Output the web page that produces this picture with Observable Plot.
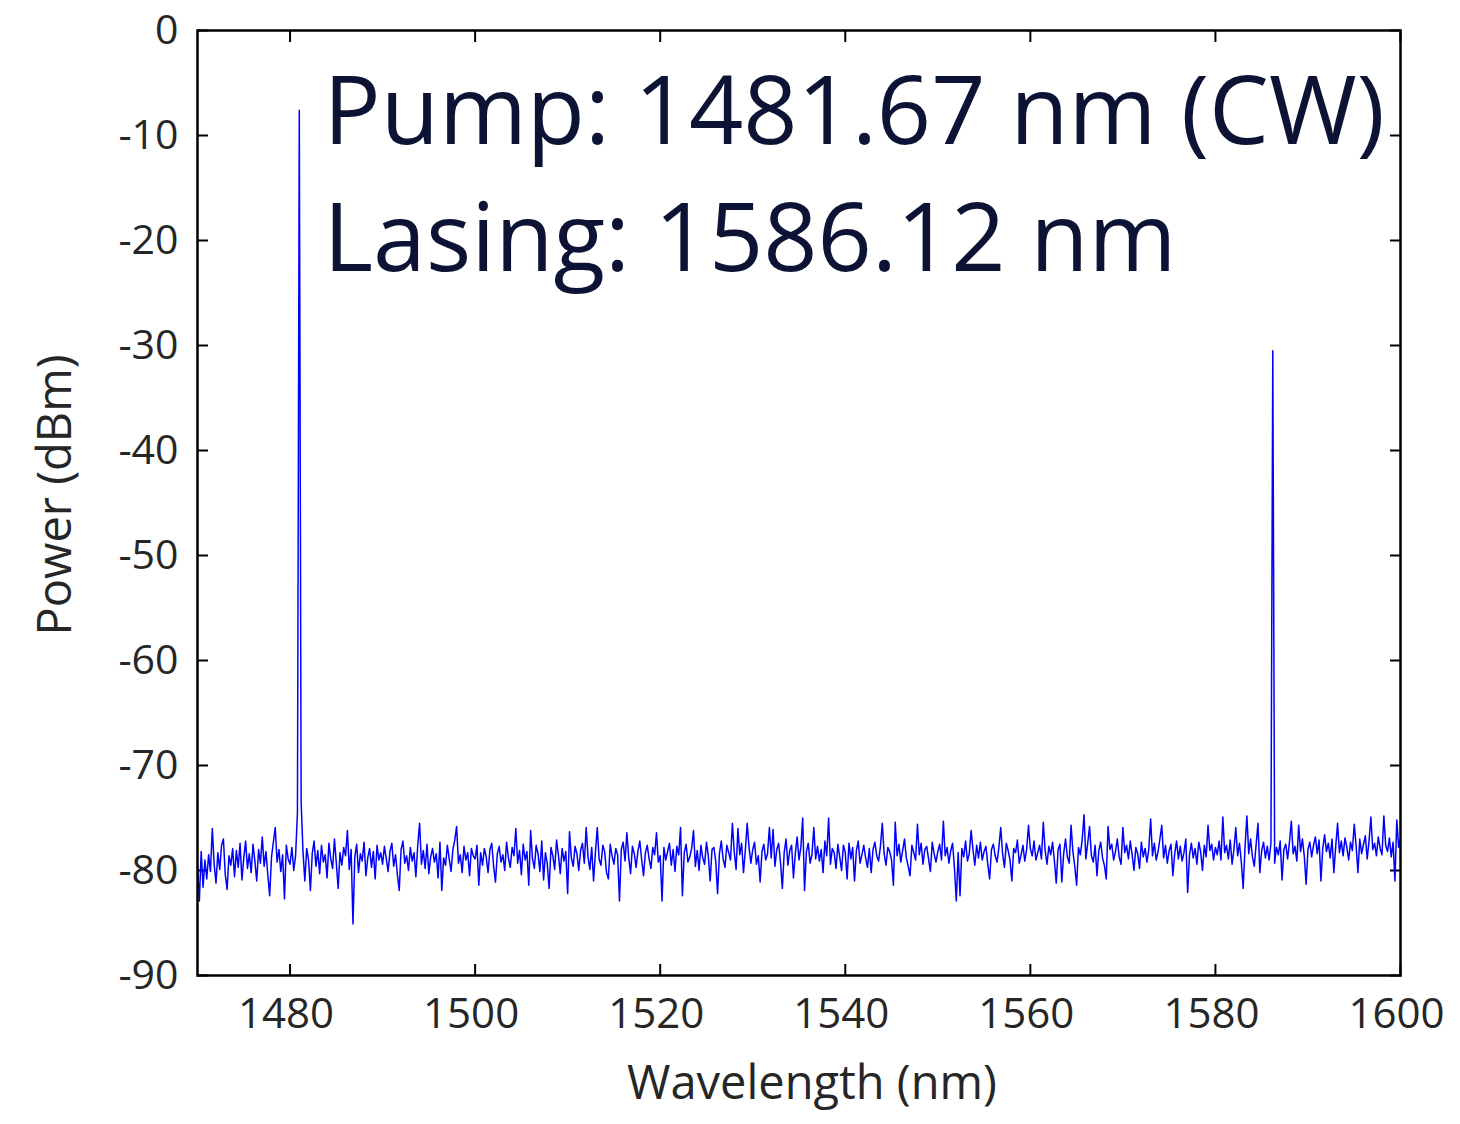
<!DOCTYPE html>
<html>
<head>
<meta charset="utf-8">
<script src="https://cdn.jsdelivr.net/npm/d3@7"></script>
<script src="https://cdn.jsdelivr.net/npm/@observablehq/plot@0.6"></script>
<style>
  html, body { margin: 0; padding: 0; background: #fff; }
</style>
</head>
<body>
<script>
// Spectrum sampling grid (nm)
const wlStart = 1470;
const wlStep = 0.2;

const power = [
// 1470.0 - 1479.8
-79.6,-82.9,-78.2,-81.6,-79.0,-80.8,-78.5,-80.1,-76.0,-79.4,
-81.2,-78.3,-79.9,-77.6,-77.0,-80.4,-81.8,-78.6,-79.5,-77.9,
-80.6,-78.1,-79.7,-77.4,-80.9,-78.8,-77.2,-79.8,-78.4,-80.2,
-77.5,-79.1,-81.0,-78.0,-79.3,-76.8,-79.6,-78.2,-80.4,-82.4,
-78.7,-77.3,-75.9,-79.2,-78.0,-80.1,-78.5,-82.7,-77.6,-78.9,
// 1480.0 - 1489.8 (pump)
-79.4,-77.8,-80.0,-78.6,-74.5,-7.6,-73.5,-78.2,-81.0,-77.9,
-79.0,-81.9,-78.4,-77.2,-79.6,-78.1,-80.3,-77.6,-79.2,-78.5,
-80.7,-77.4,-78.9,-79.8,-77.0,-79.3,-81.7,-78.3,-79.5,-77.8,
-78.6,-76.2,-79.9,-78.0,-85.1,-78.7,-77.5,-80.2,-78.4,-79.1,
-77.3,-80.5,-78.8,-77.9,-79.7,-78.2,-80.8,-77.6,-79.0,-78.3,
// 1490.0 - 1499.8
-79.4,-77.7,-78.9,-80.1,-78.2,-77.4,-79.6,-78.5,-80.4,-81.9,
-78.0,-77.2,-79.3,-78.6,-80.0,-77.8,-79.1,-78.3,-80.6,-77.6,
-75.5,-79.4,-78.1,-79.8,-77.5,-80.3,-78.7,-77.9,-79.2,-78.4,
-80.7,-77.3,-81.9,-78.8,-79.5,-77.6,-78.9,-80.1,-78.0,-77.1,
-75.8,-79.3,-78.5,-80.2,-77.7,-79.0,-78.3,-80.5,-77.9,-78.6,
// 1500.0 - 1509.8
-78.9,-77.6,-81.4,-78.3,-79.5,-77.9,-78.7,-80.2,-78.0,-77.4,
-79.6,-81.1,-78.4,-77.7,-79.2,-78.5,-80.0,-77.3,-78.8,-79.7,
-77.8,-78.6,-76.0,-79.3,-78.1,-80.4,-77.5,-79.0,-78.2,-81.4,
-76.2,-78.9,-79.8,-77.6,-78.4,-80.1,-77.2,-80.9,-78.3,-79.4,
-81.7,-77.8,-78.6,-79.9,-77.1,-78.5,-80.3,-77.9,-79.1,-78.2,
// 1510.0 - 1519.8
-82.2,-76.3,-78.8,-79.6,-77.7,-78.4,-80.0,-78.1,-77.4,-79.3,
-75.9,-78.7,-79.9,-77.8,-81.0,-78.3,-75.9,-78.9,-79.5,-77.6,
-78.2,-80.2,-80.8,-77.5,-78.6,-79.4,-77.9,-78.5,-82.9,-78.0,
-77.3,-79.1,-76.4,-78.8,-80.3,-77.7,-78.4,-79.7,-78.1,-77.2,
-79.0,-80.5,-78.3,-77.6,-78.9,-79.8,-77.8,-78.5,-76.4,-79.2,
// 1520.0 - 1529.8
-78.6,-82.9,-77.8,-79.0,-78.2,-77.4,-79.5,-78.0,-80.1,-77.7,
-78.5,-75.9,-82.4,-78.3,-77.5,-79.2,-78.7,-77.9,-76.2,-79.6,
-78.1,-80.0,-77.6,-78.8,-79.4,-77.3,-78.6,-81.0,-78.0,-77.8,
-79.1,-82.2,-78.4,-77.2,-78.9,-79.7,-77.6,-78.3,-79.0,-75.5,
-78.2,-79.9,-76.0,-78.5,-77.4,-80.2,-78.1,-75.5,-77.8,-79.3,
// 1530.0 - 1539.8
-78.0,-77.3,-79.4,-78.6,-81.1,-78.2,-77.5,-79.0,-78.4,-75.9,
-78.8,-76.1,-79.6,-78.0,-77.4,-79.2,-81.7,-78.3,-77.0,-79.5,
-78.1,-77.6,-80.7,-78.4,-76.8,-79.0,-77.8,-75.0,-81.9,-78.2,
-77.4,-79.3,-78.5,-75.9,-78.9,-77.7,-79.1,-78.0,-80.2,-77.2,
-78.6,-75.0,-79.4,-77.9,-78.3,-79.8,-77.5,-78.7,-80.0,-77.6,
// 1540.0 - 1549.8
-78.3,-80.8,-77.4,-78.9,-77.8,-81.0,-78.1,-77.2,-79.3,-78.5,
-77.6,-78.8,-79.7,-77.9,-80.2,-78.0,-77.3,-78.6,-79.1,-77.7,
-75.5,-78.4,-79.5,-77.8,-78.2,-79.0,-81.4,-75.4,-78.6,-77.5,
-79.2,-78.1,-77.0,-78.8,-79.6,-80.5,-77.6,-78.3,-79.0,-75.6,
-78.5,-77.4,-79.4,-78.0,-77.7,-78.9,-80.1,-77.3,-78.4,-79.2,
// 1550.0 - 1559.8
-78.2,-77.5,-79.0,-75.3,-78.6,-77.8,-79.3,-78.1,-77.4,-79.8,
-82.9,-78.3,-82.4,-77.9,-78.7,-77.2,-79.1,-78.4,-76.2,-78.0,
-79.5,-77.6,-78.8,-77.3,-79.0,-78.2,-77.7,-79.4,-80.8,-78.0,
-77.5,-78.6,-79.2,-77.8,-75.9,-78.4,-79.7,-77.4,-78.1,-79.0,
-81.0,-77.9,-78.3,-77.1,-79.3,-78.5,-77.6,-79.1,-78.0,-75.7,
// 1560.0 - 1569.8
-77.9,-78.6,-77.2,-79.0,-78.3,-77.6,-78.9,-75.4,-78.1,-79.4,
-77.7,-78.5,-77.3,-79.1,-81.2,-78.0,-77.5,-81.1,-78.4,-77.0,
-78.7,-79.3,-75.7,-78.2,-79.6,-81.4,-77.8,-78.5,-77.1,-74.7,
-78.9,-77.4,-75.8,-78.6,-79.2,-77.6,-80.5,-78.1,-77.3,-78.8,
-79.5,-80.8,-75.8,-78.0,-77.5,-79.0,-78.2,-77.0,-78.7,-79.4,
// 1570.0 - 1579.8
-75.9,-78.3,-77.6,-78.9,-77.2,-78.5,-80.0,-77.8,-78.4,-79.8,
-77.3,-78.7,-77.9,-79.2,-78.0,-75.1,-78.6,-77.4,-79.0,-78.2,
-77.0,-75.7,-78.8,-77.6,-79.3,-78.1,-77.5,-80.5,-78.4,-77.2,
-78.9,-77.7,-79.1,-78.3,-77.0,-82.1,-78.5,-77.4,-78.8,-77.9,
-79.4,-77.3,-78.2,-80.0,-77.6,-78.7,-75.7,-78.1,-77.5,-79.0,
// 1580.0 - 1589.8 (lasing)
-77.8,-78.5,-77.2,-79.0,-74.9,-78.3,-77.6,-78.9,-77.1,-79.4,
-78.0,-75.9,-78.6,-77.4,-79.2,-81.7,-77.8,-74.8,-78.4,-77.0,
-78.7,-79.6,-77.5,-75.5,-80.2,-78.1,-77.3,-78.8,-77.7,-79.0,
-77.4,-30.5,-79.3,-77.8,-78.5,-77.2,-80.9,-78.0,-77.5,-78.9,
-77.3,-75.3,-78.4,-77.7,-79.1,-75.7,-78.2,-77.0,-78.6,-81.3,
// 1590.0 - 1600.0
-78.0,-77.3,-78.7,-77.6,-76.8,-78.4,-77.1,-81.0,-77.9,-76.6,
-78.2,-77.4,-78.8,-77.0,-80.2,-77.7,-75.5,-78.3,-77.2,-78.6,
-76.9,-77.8,-79.0,-77.3,-78.1,-75.6,-77.6,-80.2,-77.0,-78.4,
-77.5,-76.7,-78.9,-77.2,-74.9,-78.0,-77.4,-78.6,-76.8,-77.9,
-78.5,-74.8,-77.6,-78.2,-76.9,-78.7,-77.3,-81.0,-75.2,-77.8,
-77.0
];

const xTicks = [1480, 1500, 1520, 1540, 1560, 1580, 1600];
const yTicks = [-90, -80, -70, -60, -50, -40, -30, -20, -10, 0];
const annotation = ["Pump: 1481.67 nm (CW)\nLasing: 1586.12 nm"];
const xLabel = ["Wavelength (nm)"];
const yLabel = ["Power (dBm)"];

const spectrum = power.map((p, i) => ({ wl: +(wlStart + i * wlStep).toFixed(2), p }));

const font = "'Open Sans', 'Noto Sans', sans-serif";
const tickColor = "#262626";

const chart = Plot.plot({
  width: 1460,
  height: 1124,
  marginLeft: 197,
  marginRight: 60,
  marginTop: 30,
  marginBottom: 149,
  style: { fontFamily: font, fontSize: "41px", color: "#000", background: "#fff", overflow: "visible" },
  x: { domain: [1470, 1600] },
  y: { domain: [-90, 0] },
  marks: [
    // inward ticks on all four sides
    Plot.axisX(xTicks, { anchor: "bottom", tickSize: -11, strokeWidth: 2, tickFormat: () => "", label: null }),
    Plot.axisX(xTicks, { anchor: "top", tickSize: -11, strokeWidth: 2, tickFormat: () => "", label: null }),
    Plot.axisY(yTicks, { anchor: "left", tickSize: -11, strokeWidth: 2, tickFormat: () => "", label: null }),
    Plot.axisY(yTicks, { anchor: "right", tickSize: -11, strokeWidth: 2, tickFormat: () => "", label: null }),
    // tick labels
    Plot.axisX(xTicks, { anchor: "bottom", tickSize: 0, tickPadding: 23, tickFormat: d => String(d), fill: tickColor, fontSize: 42, dx: -4, label: null }),
    Plot.axisY(yTicks, { anchor: "left", tickSize: 0, tickPadding: 19, tickFormat: d => String(d), fill: tickColor, fontSize: 41, label: null }),
    Plot.line(spectrum, { x: "wl", y: "p", stroke: "#0000ff", strokeWidth: 1.5 }),
    Plot.frame({ stroke: "#000", strokeWidth: 2.5 }),
    Plot.text(annotation, {
      frameAnchor: "top-left", dx: 126, dy: 23, textAnchor: "start", lineAnchor: "top",
      lineHeight: 1.34, fontSize: 95, fill: "#0d1335", fontFamily: font
    }),
    Plot.text(xLabel, { frameAnchor: "bottom", dx: 13, dy: 108, lineAnchor: "middle", fontSize: 47, fill: tickColor, fontFamily: font }),
    Plot.text(yLabel, { frameAnchor: "left", dx: -142, dy: -8, rotate: -90, textAnchor: "middle", lineAnchor: "middle", fontSize: 47, fill: tickColor, fontFamily: font })
  ]
});

document.body.appendChild(chart);
</script>
</body>
</html>
